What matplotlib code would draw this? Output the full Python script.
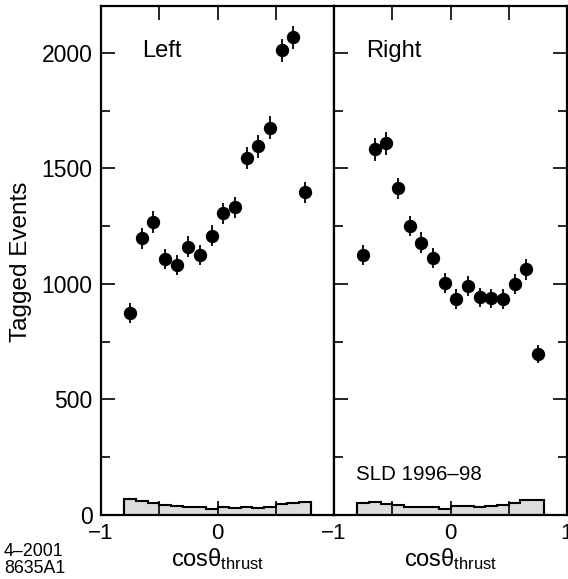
import numpy as np
import matplotlib
matplotlib.use("Agg")
import matplotlib.pyplot as plt
from matplotlib.ticker import FixedLocator, FixedFormatter, MultipleLocator

plt.rcParams['font.family'] = ['Liberation Sans', 'DejaVu Sans']
plt.rcParams['mathtext.fontset'] = 'custom'
plt.rcParams['mathtext.rm'] = 'Liberation Sans'
plt.rcParams['mathtext.it'] = 'Liberation Sans'

# bin centres of cos(theta_thrust)
bin_centers = [-0.75, -0.65, -0.55, -0.45, -0.35, -0.25, -0.15, -0.05,
               0.05, 0.15, 0.25, 0.35, 0.45, 0.55, 0.65, 0.75]
bin_edges = [-0.8, -0.7, -0.6, -0.5, -0.4, -0.3, -0.2, -0.1, 0.0,
             0.1, 0.2, 0.3, 0.4, 0.5, 0.6, 0.7, 0.8]

left_counts = [876, 1198, 1268, 1107, 1082, 1162, 1126, 1208,
               1306, 1332, 1544, 1595, 1677, 2012, 2067, 1397]
left_errors = [43, 45, 46, 44, 44, 45, 44, 45, 46, 46, 48, 48, 49, 50, 50, 46]
right_counts = [1126, 1583, 1609, 1414, 1251, 1179, 1111, 1006,
                934, 991, 942, 938, 935, 1000, 1063, 697]
right_errors = [44, 49, 49, 46, 45, 45, 44, 43, 42, 43, 42, 42, 42, 43, 44, 40]

left_bkg = [68, 61, 50, 43, 40, 36, 33, 26, 33, 30, 36, 31, 36, 46, 50, 55]
right_bkg = [53, 58, 48, 43, 36, 36, 33, 26, 40, 40, 36, 38, 43, 53, 66, 66]

panel_titles = ["Left", "Right"]
title_x = [-0.645, -0.72]
xtick_pos = [-1, -0.5, 0, 0.5, 1]
left_xticklabels = ["\u22121", "", "0", "", ""]
right_xticklabels = ["\u22121", "", "0", "", "1"]
yticks = [0, 500, 1000, 1500, 2000]

W, H = 568, 579
fig = plt.figure(figsize=(W / 100, H / 100), dpi=100)

x0, x1, x2 = 101, 334, 567
ytop, ybot = 6, 515
axL = fig.add_axes([x0 / W, (H - ybot) / H, (x1 - x0) / W, (ybot - ytop) / H])
axR = fig.add_axes([x1 / W, (H - ybot) / H, (x2 - x1) / W, (ybot - ytop) / H])

for ax, counts, errs, bkg, title, tx, xlabs in [
        (axL, left_counts, left_errors, left_bkg, panel_titles[0], title_x[0], left_xticklabels),
        (axR, right_counts, right_errors, right_bkg, panel_titles[1], title_x[1], right_xticklabels)]:
    ax.stairs(bkg, bin_edges, fill=True, color='#dcdcdc', zorder=1)
    ax.stairs(bkg, bin_edges, fill=False, color='black', lw=1.5, zorder=2,
              baseline=0)
    ax.vlines([bin_edges[0], bin_edges[-1]], 0, [bkg[0], bkg[-1]],
              colors='black', lw=1.5, zorder=2)
    ax.errorbar(bin_centers, counts, yerr=errs, fmt='o', color='black',
                ms=8.6, elinewidth=1.3, capsize=0, zorder=3)
    ax.set_xlim(-1, 1)
    ax.set_ylim(0, 2203)
    ax.xaxis.set_major_locator(FixedLocator(xtick_pos))
    ax.xaxis.set_major_formatter(FixedFormatter(xlabs))
    ax.yaxis.set_major_locator(FixedLocator(yticks))
    ax.yaxis.set_minor_locator(MultipleLocator(250))
    ax.tick_params(which='both', direction='in', top=True, bottom=True,
                   labelsize=16.5, width=1.2, zorder=4)
    ax.tick_params(axis='x', which='major', length=10, pad=5.5, labelsize=16)
    ax.tick_params(axis='y', which='major', length=10, pad=6)
    ax.tick_params(axis='y', which='minor', length=6.5)
    for s in ax.spines.values():
        s.set_linewidth(1.6)
        s.set_zorder(5)
    ax.text(tx, 1983, title, fontsize=17, ha='left', va='baseline')
    ax.text(0.5, (ybot - 566) / (ybot - ytop), r'cos$\theta_{\rm thrust}$',
            fontsize=17, ha='center', va='baseline', transform=ax.transAxes)

axL.tick_params(axis='y', left=True, right=False, labelleft=True)
axR.tick_params(axis='y', which='both', left=True, right=True, labelleft=False)

fig.text(21 / W, (H - 261.5) / H, 'Tagged Events', fontsize=17.5,
         rotation=90, ha='center', va='center')

axR.text(-0.81, 151, "SLD 1996\u201398", fontsize=14.8, ha='left', va='baseline')

fig.text(4 / W, (H - 556) / H, "4\u20132001", fontsize=12.8,
         ha='left', va='baseline')
fig.text(4 / W, (H - 573) / H, "8635A1", fontsize=12.8,
         ha='left', va='baseline')

fig.savefig("out.png", dpi=100)
